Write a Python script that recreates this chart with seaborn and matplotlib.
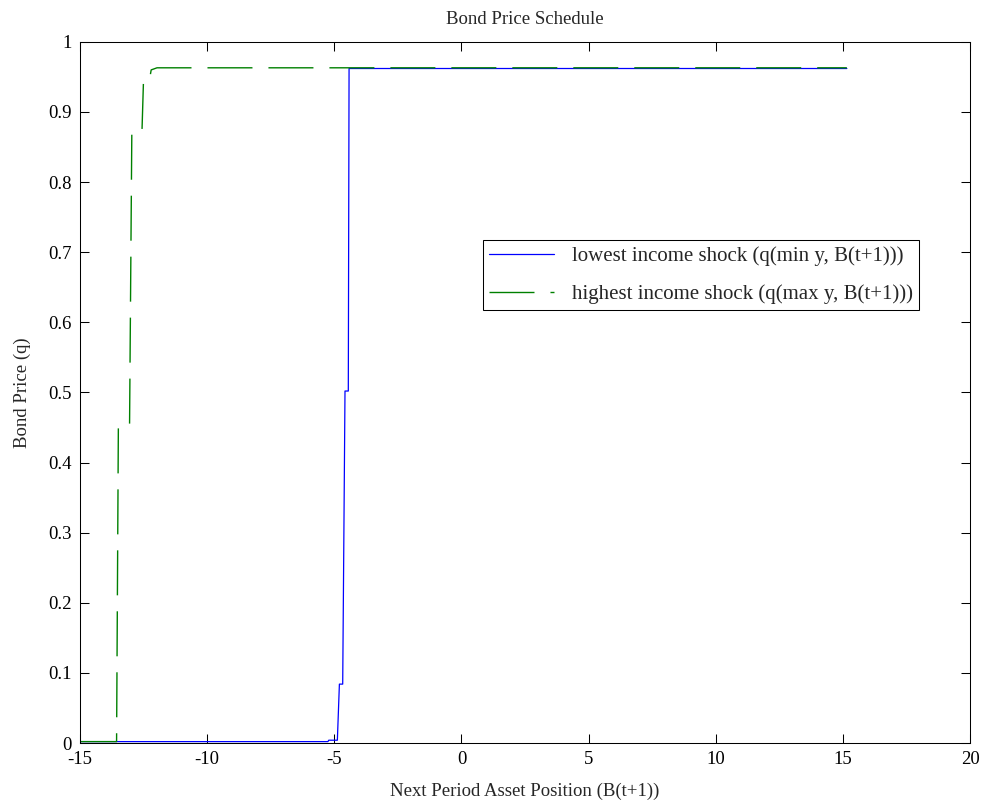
import matplotlib
matplotlib.use("Agg")
import matplotlib.pyplot as plt
import seaborn as sns

# breakpoints of the two price schedules
blue_x = [-15.0, -5.25, -5.22, -4.88, -4.80, -4.67, -4.58, -4.45, -4.42, 15.15]
blue_y = [0.002, 0.002, 0.004, 0.004, 0.084, 0.084, 0.502, 0.502, 0.962, 0.962]

green_x = [-15.0, -13.56, -13.49, -13.05, -12.96, -12.56, -12.50, -12.26, -12.20, -11.97, 15.15]
green_y = [0.002, 0.002, 0.451, 0.451, 0.874, 0.874, 0.947, 0.947, 0.960, 0.963, 0.963]

x_ticks = [-15, -10, -5, 0, 5, 10, 15, 20]
y_ticks = [0, 0.1, 0.2, 0.3, 0.4, 0.5, 0.6, 0.7, 0.8, 0.9, 1]
y_ticklabels = ["0", "0.1", "0.2", "0.3", "0.4", "0.5", "0.6", "0.7", "0.8", "0.9", "1"]

label_low = "lowest income shock (q(min y, B(t+1)))"
label_high = "highest income shock (q(max y, B(t+1)))"

sns.set_style("ticks")
plt.rcParams["font.family"] = ["Liberation Serif", "DejaVu Serif"]
plt.rcParams["lines.scale_dashes"] = False
plt.rcParams["axes.unicode_minus"] = False

fig = plt.figure(figsize=(9.87, 8.05), dpi=100)
ax = fig.add_axes([0.081, 0.077, 0.902, 0.871])

sns.lineplot(x=blue_x, y=blue_y, color=(0, 0, 1), lw=0.9, estimator=None,
             label=label_low, ax=ax)
sns.lineplot(x=green_x, y=green_y, color=(0, 0.5, 0), lw=1.0, estimator=None,
             linestyle=(0, (32.4, 11.5)), label=label_high, ax=ax)

ax.set_xlim(-15, 20)
ax.set_ylim(0, 1)
ax.set_xticks(x_ticks)
ax.set_yticks(y_ticks)
ax.set_yticklabels(y_ticklabels)
ax.tick_params(direction="in", top=True, right=True, length=6.4, width=0.75,
               labelsize=13.5, colors="black")
ax.tick_params(axis="x", pad=6)
ax.tick_params(axis="y", pad=6)
for s in ax.spines.values():
    s.set_linewidth(0.75)
    s.set_color("black")

ax.set_title("Bond Price Schedule", fontsize=13.5, pad=13)
ax.set_xlabel("Next Period Asset Position (B(t+1))", fontsize=13.5, labelpad=10)
ax.set_ylabel("Bond Price (q)", fontsize=13.5, labelpad=12)

leg = ax.legend(loc="upper left", bbox_to_anchor=(0.453, 0.7175), borderaxespad=0,
                fontsize=15, frameon=True, fancybox=False, shadow=False,
                handlelength=3.1, handletextpad=0.85, labelspacing=0.88,
                borderpad=0.3)
leg.get_frame().set_edgecolor("black")
leg.get_frame().set_linewidth(0.75)
leg.get_frame().set_alpha(1)

plt.savefig("out.png", dpi=100)
